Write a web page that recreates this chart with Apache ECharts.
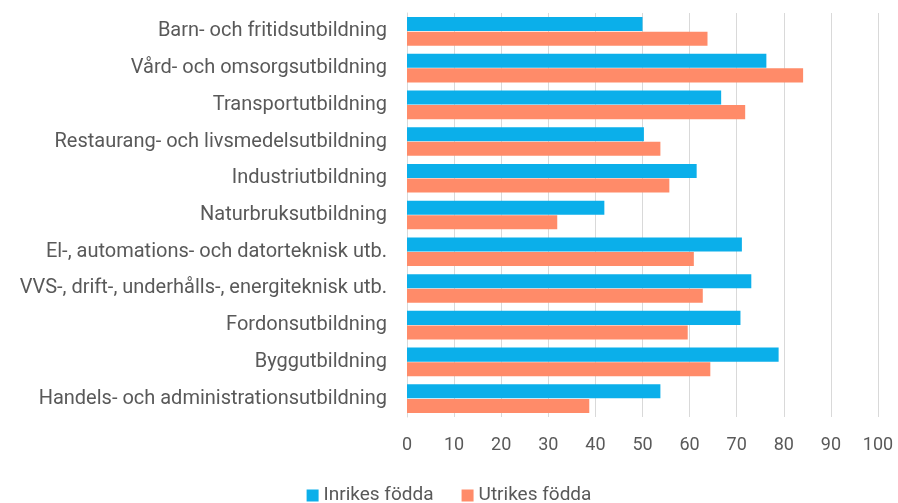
<!DOCTYPE html>
<html>
<head>
<meta charset="utf-8">
<script src="https://cdn.jsdelivr.net/npm/echarts@6/dist/echarts.min.js"></script>
<style>
  html, body { margin: 0; padding: 0; background: #fff; }
  #chart { width: 898px; height: 503px; }
</style>
</head>
<body>
<div id="chart"></div>
<script>
// utbildningar, uppifrån och ned
var categories = [
        'Barn- och fritidsutbildning',
        'Vård- och omsorgsutbildning',
        'Transportutbildning',
        'Restaurang- och livsmedelsutbildning',
        'Industriutbildning',
        'Naturbruksutbildning',
        'El-, automations- och datorteknisk utb.',
        'VVS-, drift-, underhålls-, energiteknisk utb.',
        'Fordonsutbildning',
        'Byggutbildning',
        'Handels- och administrationsutbildning'
];
var inrikes = [50.0, 76.3, 66.7, 50.3, 61.5, 41.9, 71.1, 73.1, 70.8, 78.9, 53.8];
var utrikes = [63.8, 84.1, 71.8, 53.8, 55.7, 31.9, 60.9, 62.8, 59.6, 64.4, 38.7];
var seriesNames = ['Inrikes födda', 'Utrikes födda'];

var textColor = '#595959';
var font = 'Roboto, "Noto Sans", sans-serif';

var chart = echarts.init(document.getElementById('chart'));

var option = {
        animation: false,
        textStyle: { fontFamily: font },
        grid: {
                left: 407,
                right: 20,
                top: 13,
                bottom: 86
        },
        legend: {
                data: seriesNames,
                top: 481,
                left: 'center',
                itemWidth: 12,
                itemHeight: 12,
                itemGap: 28,
                icon: 'rect',
                textStyle: { color: textColor, fontSize: 19, fontFamily: font }
        },
        xAxis: {
                type: 'value',
                min: 0,
                max: 100,
                interval: 10,
                axisLine: { show: false },
                axisTick: { show: false },
                axisLabel: { color: textColor, fontSize: 18, margin: 19, fontFamily: font },
                splitLine: { lineStyle: { color: '#d9d9d9', width: 1 } }
        },
        yAxis: {
                type: 'category',
                inverse: true,
                data: categories,
                axisLine: { show: true, lineStyle: { color: '#d9d9d9' } },
                axisTick: { show: false },
                axisLabel: { color: textColor, fontSize: 20, margin: 20, fontFamily: font }
        },
        series: [
                {
                        name: seriesNames[0],
                        type: 'bar',
                        data: inrikes,
                        itemStyle: { color: '#0bafea' },
                        barGap: '4%',
                        barCategoryGap: '22%'
                },
                {
                        name: seriesNames[1],
                        type: 'bar',
                        data: utrikes,
                        itemStyle: { color: '#ff8b69' }
                }
        ]
};

chart.setOption(option);
</script>
</body>
</html>
